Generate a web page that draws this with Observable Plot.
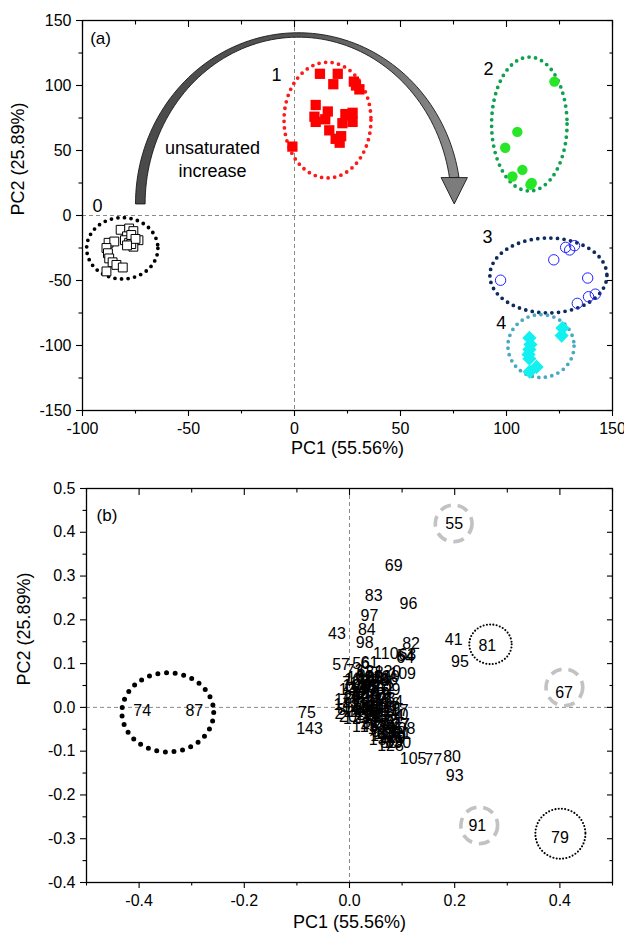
<!DOCTYPE html>
<html><head><meta charset="utf-8">
<script src="https://cdn.jsdelivr.net/npm/d3@7"></script>
<script src="https://cdn.jsdelivr.net/npm/@observablehq/plot@0.6"></script>
<style>
html,body{margin:0;padding:0;background:#fff;}
#pa svg,#pb svg{display:block;}
</style>
</head><body>
<div id="pa"></div><div id="pb"></div>
<script>
const FONT = '"Liberation Sans", Arial, Helvetica, sans-serif';

// ---------- Panel (a) data ----------
const xTicksA = [-100, -50, 0, 50, 100, 150];
const xMinorA = [-75, -25, 25, 75, 125];
const yTicksA = [-150, -100, -50, 0, 50, 100, 150];
const yMinorA = [-125, -75, -25, 25, 75, 125];

const group0 = [[-82,-11],[-78,-10],[-76,-12],[-79,-16],[-73.6,-19],[-80,-19],[-76,-24],[-78,-21],[-77,-22],
  [-87.7,-21],[-85,-20],[-88.7,-25],[-88,-29],[-87.4,-33],[-85.8,-36],[-84,-38],[-81,-40],[-88.7,-43],
  [-77,-15],[-75,-18],[-79,-23]];
const group1 = [[12,109],[20.4,109],[18.3,101],[28,103],[29,100],[30.6,97],[10,85],[15.7,80],[9.4,76],
  [14.5,74],[10,72],[24,78],[27.4,79],[25.5,77],[22.6,71],[27.4,72],[16.4,65.5],[19.4,59],[21.3,56],[22,61],[-1,53]];
const group2 = [[122.6,103],[105.1,64.3],[99.4,52.1],[107.5,35.1],[102.8,30],[111.9,25],[111.3,23.7]];
const group3 = [[97.2,-49.8],[122.3,-34.1],[127.9,-24.5],[129.8,-26.5],[132.1,-23.2],[138.3,-48.1],
  [138.7,-62.5],[141.9,-60.5],[133.4,-67.6]];
const group4 = [[110.8,-94.2],[111.3,-99.3],[110.8,-103.1],[110.4,-106.9],[110.8,-110.2],[126.4,-86.6],
  [126,-92.4],[114.2,-116.5],[110.9,-120.1]];

// cluster ellipses (center, radii in data units)
const ellipsesA = [
  {group: 0, cx: -81, cy: -25.6, rx: 16.8, ry: 23.6},
  {group: 1, cx: 15.8, cy: 73, rx: 20.5, ry: 44.5},
  {group: 2, cx: 111, cy: 70, rx: 17.8, ry: 51.5},
  {group: 3, cx: 120, cy: -46.5, rx: 27.6, ry: 28.8},
  {group: 4, cx: 116.5, cy: -100.8, rx: 15.6, ry: 24.2}
];
const groupLabelsA = [["0", -92.9, 7.5], ["1", -8.5, 108], ["2", 91.5, 112.5], ["3", 91, -16.5], ["4", 97.5, -83]];
const arrowA = {cx: 2, cy: 8.5, rx: 74.5, ry: 130, yEnd: 28.8, headHalf: 6.2};
const noteA = [["unsaturated", -38.7, 51.5], ["increase", -38.7, 33.8]];

// ---------- Panel (b) data ----------
const xTicksB = [-0.4, -0.2, 0, 0.2, 0.4];
const xMinorB = [-0.5, -0.3, -0.1, 0.1, 0.3, 0.5];
const yTicksB = [-0.4, -0.3, -0.2, -0.1, 0, 0.1, 0.2, 0.3, 0.4, 0.5];
const yMinorB = [-0.35, -0.25, -0.15, -0.05, 0.05, 0.15, 0.25, 0.35, 0.45];

const outlierLabelsB = [
  ["55",0.199,0.419],["69",0.084,0.324],["83",0.046,0.255],["96",0.112,0.236],["97",0.038,0.208],
  ["84",0.033,0.176],["43",-0.024,0.168],["98",0.029,0.147],["41",0.198,0.155],["82",0.117,0.146],
  ["81",0.262,0.141],["95",0.210,0.103],["110",0.069,0.123],["64",0.106,0.114],["54",0.107,0.118],
  ["63",0.110,0.121],["57",-0.016,0.096],["56",0.022,0.100],["61",0.038,0.102],["120",0.073,0.080],
  ["109",0.101,0.076],["67",0.408,0.034],["74",-0.394,-0.008],["87",-0.295,-0.008],["75",-0.081,-0.013],
  ["143",-0.076,-0.050],["105",0.121,-0.118],["77",0.159,-0.121],["80",0.195,-0.114],["93",0.200,-0.157],
  ["91",0.243,-0.271],["79",0.400,-0.298]
];
const clusterLabelsB = [
  ["73",0.010,0.083],["62",0.030,0.082],["58",0.048,0.079],["72",0.003,0.057],["60",0.022,0.058],
  ["59",0.040,0.055],["53",0.058,0.060],["66",0.075,0.062],["44",0.015,0.040],["45",0.032,0.038],
  ["46",0.050,0.040],["52",0.068,0.042],["16",-0.012,0.017],["24",0.005,0.022],["25",0.022,0.020],
  ["26",0.038,0.022],["27",0.055,0.018],["28",0.070,0.020],["14",0.085,0.012],["8",-0.015,-0.005],
  ["12",0.002,0.002],["13",0.018,0.004],["15",0.034,0.000],["17",0.050,0.003],["18",0.065,-0.002],
  ["19",0.080,-0.005],["123",0.013,-0.027],["2",-0.020,-0.015],["21",0.030,-0.018],["22",0.045,-0.020],
  ["23",0.060,-0.022],["31",0.085,-0.025],["47",0.098,-0.040],["108",0.100,-0.050],["32",0.040,-0.035],
  ["33",0.055,-0.040],["34",0.070,-0.045],["35",0.085,-0.050],["140",0.065,-0.065],["129",0.080,-0.070],
  ["70",0.090,-0.068],["89",0.085,-0.078],["50",0.075,-0.080],["36",0.030,0.010],["37",0.045,0.012],
  ["38",0.025,-0.005],["39",0.040,-0.008],["40",0.058,-0.010],["42",0.020,0.030],["48",0.035,0.050],
  ["49",0.060,0.030],["3",0.010,0.012],["4",0.028,0.045],["5",0.048,0.025],["6",0.062,0.005],
  ["7",0.075,-0.035],["9",0.050,-0.055],["10",0.095,-0.018],["11",0.005,-0.010],["20",-0.003,-0.022],
  ["29",0.055,-0.030],["30",0.068,-0.058],["141",0.092,-0.060],["99",0.080,0.040],["100",0.070,0.070],
  ["101",0.055,0.070],["102",0.020,0.068],["103",0.040,0.066],["104",0.012,0.050],["106",0.030,0.030],
  ["107",0.048,0.032],["111",0.062,0.050],["112",0.010,0.030],["113",0.025,0.010],["114",0.042,0.002],
  ["115",0.058,0.015],["116",0.072,0.008],["117",0.088,-0.008],["118",0.020,-0.010],["119",0.035,-0.025],
  ["121",0.050,-0.015],["122",0.065,-0.030],["124",0.078,-0.020],["125",0.060,-0.048],["126",0.072,-0.060],
  ["127",0.088,-0.040],["128",0.078,-0.088],["130",0.092,-0.082],["131",0.015,0.062],["132",0.030,0.002],
  ["133",0.045,-0.045],["134",0.062,-0.075],["135",0.005,0.040],["136",0.025,0.045],["137",0.068,0.000],
  ["138",0.082,-0.058],["139",0.038,0.070],["142",-0.005,0.005],["144",0.052,0.060],["145",0.030,-0.045]
];
const bigEllipseB = [{cx: -0.3445, cy: -0.0126, rx: 0.0873, ry: 0.0904}];
const grayCirclesB = [{cx: 0.199, cy: 0.419, rx: 0.0349, ry: 0.0419},
                      {cx: 0.4095, cy: 0.0446, rx: 0.0349, ry: 0.0419},
                      {cx: 0.2476, cy: -0.2707, rx: 0.0349, ry: 0.0419}];
const dottedCirclesB = [{cx: 0.269, cy: 0.143, rx: 0.0403, ry: 0.0453},
                        {cx: 0.4019, cy: -0.2897, rx: 0.0476, ry: 0.0572}];

// ---------- helpers ----------
const NS = "http://www.w3.org/2000/svg";
function ellipseMark(list, style) {
  return (index, scales) => {
    const {x, y} = scales;
    const g = document.createElementNS(NS, "g");
    for (const e of list) {
      const cx = x(e.cx), cy = y(e.cy);
      const el = document.createElementNS(NS, "ellipse");
      el.setAttribute("cx", cx); el.setAttribute("cy", cy);
      el.setAttribute("rx", Math.abs(x(e.cx + e.rx) - cx));
      el.setAttribute("ry", Math.abs(y(e.cy + e.ry) - cy));
      el.setAttribute("fill", "none");
      const s = typeof style === "function" ? style(e) : style;
      for (const k in s) el.setAttribute(k, s[k]);
      g.appendChild(el);
    }
    return g;
  };
}
function arrowMark(A) {
  return (index, scales) => {
    const {x, y} = scales;
    const cx = x(A.cx), cy = y(A.cy);
    const Rx = x(A.cx + A.rx) - cx, Ry = cy - y(A.cy + A.ry);
    const yE = y(A.yEnd);
    const te = Math.asin((cy - yE) / Ry);
    const w = 4.8, t = 2.2, N = 90;
    const outer = [], inner = [];
    for (let i = 0; i <= N; i++) {
      const th = Math.PI - (Math.PI - te) * i / N;
      outer.push([cx + (Rx + w) * Math.cos(th), cy - (Ry + t) * Math.sin(th)]);
      inner.push([cx + (Rx - w) * Math.cos(th), cy - (Ry - t) * Math.sin(th)]);
    }
    const pts = outer.concat(inner.reverse());
    const g = document.createElementNS(NS, "g");
    const defs = document.createElementNS(NS, "defs");
    defs.innerHTML = `<linearGradient id="arrowGrad" gradientUnits="userSpaceOnUse" x1="${cx - Rx}" y1="0" x2="${cx + Rx}" y2="0">
      <stop offset="0" stop-color="#4a4a4a"/><stop offset="0.5" stop-color="#555"/><stop offset="1" stop-color="#8a8a8a"/></linearGradient>`;
    g.appendChild(defs);
    const shaft = document.createElementNS(NS, "path");
    shaft.setAttribute("d", "M" + pts.map(p => p[0].toFixed(2) + "," + p[1].toFixed(2)).join("L") + "Z");
    shaft.setAttribute("fill", "url(#arrowGrad)");
    shaft.setAttribute("stroke", "#1a1a1a");
    shaft.setAttribute("stroke-width", "0.9");
    g.appendChild(shaft);
    const bx = cx + Rx * Math.cos(te);
    const hh = x(A.headHalf) - x(0);
    const head = document.createElementNS(NS, "path");
    head.setAttribute("d", `M${bx - hh},${yE}L${bx + hh},${yE}L${bx},${cy}Z`);
    head.setAttribute("fill", "#7c7c7c");
    head.setAttribute("stroke", "#1a1a1a");
    head.setAttribute("stroke-width", "0.9");
    g.appendChild(head);
    return g;
  };
}
function frameAxes(o) {
  const none = () => "";
  const common = {label: null, stroke: "black", strokeWidth: 1.1};
  return [
    Plot.axisX({...common, anchor: "bottom", ticks: o.xMajor, tickSize: 6, tickPadding: o.padX, tickFormat: o.fmt, fontSize: 16}),
    Plot.axisX({...common, anchor: "bottom", ticks: o.xMinor, tickSize: 3.5, tickFormat: none}),
    // top and right ticks point inward: shift outward ticks back across the frame line
    Plot.axisX({...common, anchor: "top", ticks: o.xMajor, tickSize: 6, dy: 6, tickFormat: none}),
    Plot.axisX({...common, anchor: "top", ticks: o.xMinor, tickSize: 3.5, dy: 3.5, tickFormat: none}),
    Plot.axisY({...common, anchor: "left", ticks: o.yMajor, tickSize: 6, tickPadding: o.padY, tickFormat: o.fmt, fontSize: 16}),
    Plot.axisY({...common, anchor: "left", ticks: o.yMinor, tickSize: 3.5, tickFormat: none}),
    Plot.axisY({...common, anchor: "right", ticks: o.yMajor, tickSize: 6, dx: -6, tickFormat: none}),
    Plot.axisY({...common, anchor: "right", ticks: o.yMinor, tickSize: 3.5, dx: -3.5, tickFormat: none})
  ];
}
const X = d => d[1], Y = d => d[2], T = d => d[0];
const px = d => d[0], py = d => d[1];

// ---------- Panel (a) ----------
const ellColor = {0: "#000000", 1: "#ff1a1a", 2: "#0fa14f", 3: "#0e2b5c", 4: "#4aa9c2"};
const plotA = Plot.plot({
  width: 624, height: 470,
  marginLeft: 82, marginRight: 12, marginTop: 20, marginBottom: 60,
  x: {domain: [-100, 150]},
  y: {domain: [-150, 150]},
  style: {fontFamily: FONT, fontSize: "16px", color: "black", background: "white", overflow: "visible"},
  marks: [
    Plot.ruleX([0], {stroke: "#8a8a8a", strokeWidth: 1, strokeDasharray: "4,3"}),
    Plot.ruleY([0], {stroke: "#8a8a8a", strokeWidth: 1, strokeDasharray: "4,3"}),
    arrowMark(arrowA),
    ellipseMark(ellipsesA, e => ({stroke: ellColor[e.group], "stroke-width": 3.8, "stroke-dasharray": "0,6.6", "stroke-linecap": "round"})),
    Plot.dot(group0, {x: px, y: py, symbol: "square", r: 5, fill: "white", stroke: "black", strokeWidth: 1}),
    Plot.dot(group1, {x: px, y: py, symbol: "square", r: 5.8, fill: "#ff0000"}),
    Plot.dot(group2, {x: px, y: py, symbol: "circle", r: 5.2, fill: "#27e627"}),
    Plot.dot(group3, {x: px, y: py, symbol: "circle", r: 5.2, fill: "none", stroke: "#2222ff", strokeWidth: 1}),
    Plot.dot(group4, {x: px, y: py, symbol: "diamond2", r: 6.4, fill: "#12f0f0"}),
    Plot.text(groupLabelsA, {x: X, y: Y, text: T, fontSize: 18, fill: "black"}),
    Plot.text(noteA, {x: X, y: Y, text: T, fontSize: 18, fill: "black"}),
    Plot.text(["(a)"], {x: -91.5, y: 136, text: d => d, fontSize: 17, fill: "black"}),
    Plot.text(["PC1 (55.56%)"], {frameAnchor: "bottom", dy: 43, text: d => d, fontSize: 18, fill: "black"}),
    Plot.text(["PC2 (25.89%)"], {frameAnchor: "left", dx: -64, rotate: -90, text: d => d, fontSize: 18, fill: "black"}),
    Plot.frame({stroke: "black", strokeWidth: 1.3}),
    ...frameAxes({xMajor: xTicksA, xMinor: xMinorA, yMajor: yTicksA, yMinor: yMinorA, fmt: d => String(d), padX: 6, padY: 5})
  ]
});
document.getElementById("pa").appendChild(plotA);

// ---------- Panel (b) ----------
const plotB = Plot.plot({
  width: 624, height: 468,
  marginLeft: 86, marginRight: 12, marginTop: 18, marginBottom: 56,
  x: {domain: [-0.5, 0.5]},
  y: {domain: [-0.4, 0.5]},
  style: {fontFamily: FONT, fontSize: "16px", color: "black", background: "white", overflow: "visible"},
  marks: [
    Plot.ruleX([0], {stroke: "#8a8a8a", strokeWidth: 1, strokeDasharray: "4,3"}),
    Plot.ruleY([0], {stroke: "#8a8a8a", strokeWidth: 1, strokeDasharray: "4,3"}),
    ellipseMark(bigEllipseB, {stroke: "black", "stroke-width": 5, "stroke-dasharray": "0,8.7", "stroke-linecap": "round"}),
    ellipseMark(grayCirclesB, {stroke: "#c2c2c2", "stroke-width": 3.6, "stroke-dasharray": "11,7"}),
    ellipseMark(dottedCirclesB, {stroke: "black", "stroke-width": 2.1, "stroke-dasharray": "0,3.3", "stroke-linecap": "round"}),
    Plot.text(clusterLabelsB, {x: X, y: Y, text: T, fontSize: 16, fill: "black"}),
    Plot.text(outlierLabelsB, {x: X, y: Y, text: T, fontSize: 16, fill: "black"}),
    Plot.text(["(b)"], {x: -0.461, y: 0.439, text: d => d, fontSize: 17, fill: "black"}),
    Plot.text(["PC1 (55.56%)"], {frameAnchor: "bottom", dy: 45, text: d => d, fontSize: 18, fill: "black"}),
    Plot.text(["PC2 (25.89%)"], {frameAnchor: "left", dx: -62, rotate: -90, text: d => d, fontSize: 18, fill: "black"}),
    Plot.frame({stroke: "black", strokeWidth: 1.3}),
    ...frameAxes({xMajor: xTicksB, xMinor: xMinorB, yMajor: yTicksB, yMinor: yMinorB, fmt: d => d.toFixed(1), padX: 6, padY: 5})
  ]
});
document.getElementById("pb").appendChild(plotB);
</script>
</body></html>
